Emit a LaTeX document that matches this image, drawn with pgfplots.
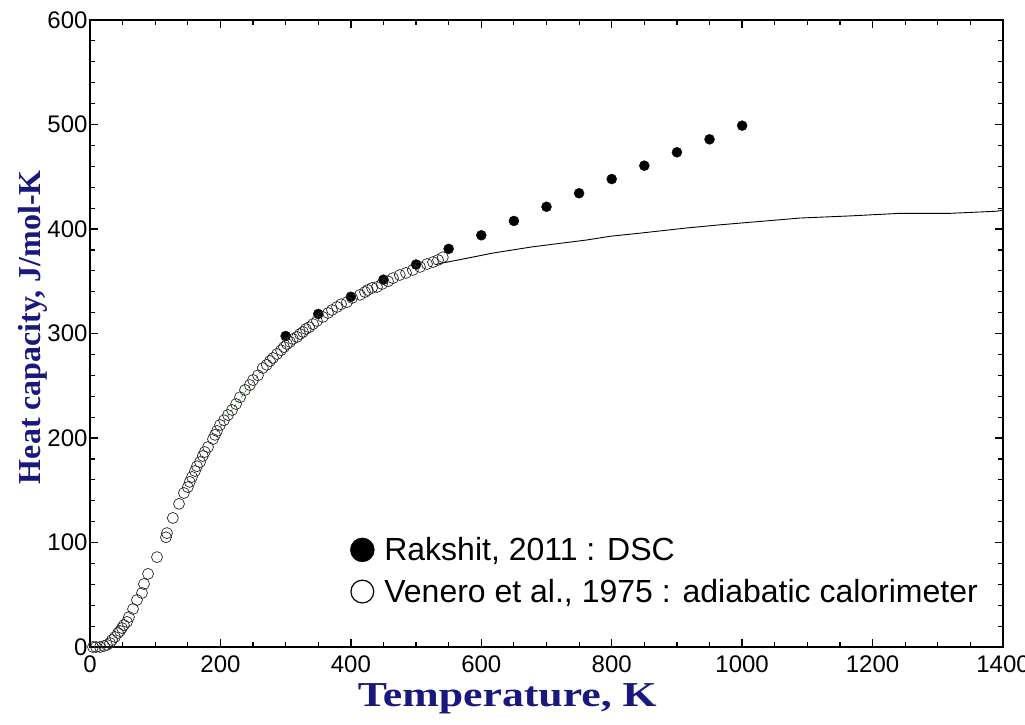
\documentclass[border=0pt]{standalone}
\usepackage{fontspec}
\setmainfont{Liberation Sans}
\newfontfamily\serifb{Liberation Serif}
\newfontfamily\serifwide[FakeStretch=1.25]{Liberation Serif}
\usepackage{pgfplots}
\pgfplotsset{compat=1.18}
\definecolor{navy}{RGB}{25,25,125}
\begin{document}
\begin{tikzpicture}
\path[use as bounding box] (-90pt,-77pt) rectangle (935pt,647pt);
\begin{axis}[
  at={(0,0)}, anchor=south west,
  scale only axis, width=913pt, height=627pt,
  xmin=0, xmax=1400, ymin=0, ymax=600,
  xtick={0,200,...,1400}, ytick={0,100,...,600},
  minor x tick num=3, minor y tick num=4,
  tick align=inside, xtick pos=both, ytick pos=both,
  xticklabel pos=bottom, yticklabel pos=left,
  major tick length=8pt, minor tick length=5pt,
  axis line style={line width=1.8pt},
  major tick style={line width=1.4pt, black},
  minor tick style={line width=1.2pt, black},
  tick label style={font=\fontsize{24}{28}\selectfont},
  /pgf/number format/assume math mode=true,
  /pgf/number format/1000 sep={},
  xticklabel style={yshift=-5pt},
  yticklabel style={xshift=1pt},
  xlabel={Temperature, K},
  ylabel={Heat capacity, J/mol-K},
  xlabel style={font=\serifwide\bfseries\fontsize{35}{40}\selectfont, text=navy,
    at={(axis description cs:0.457,0)}, anchor=north, yshift=-33pt},
  ylabel style={font=\serifb\bfseries\fontsize{32}{36}\selectfont, text=navy,
    at={(axis description cs:0,0.51)}, anchor=center, yshift=57pt},
  legend style={draw=none, fill=none, at={(axis cs:394,73)}, anchor=west,
    font=\fontsize{32}{36}\selectfont, row sep=13pt, cells={anchor=west}},
  clip=false,
]
% thin green dashed fragment under the circles
\addplot[forget plot, green!60!black, line width=0.6pt, dashed] coordinates {
(195,206) (210,220) (225,233) (240,246) (253,256) (265,266)
};
% calculated curve
\addplot[forget plot, black, line width=0.9pt] coordinates {
(530,366) (541,367.5) (578,372) (618,377) (679,383) (762,389.5) (797,393)
(843,396) (915,401) (966,404) (1017,406.7) (1089,410.5) (1165,412.5)
(1242,415) (1319,415) (1390,417) (1400,418)
};
% Rakshit 2011 DSC
\addplot[only marks, mark=*, mark size=5pt, mark options={fill=black, draw=black},
  legend image code/.code={\fill[black] (12pt,0pt) circle (12pt);
    \path[draw=none, fill=none] (0pt,-1pt) (32pt,1pt);}] coordinates {
(300,297.6) (350,318.7) (400,335.2) (450,351.5) (500,366) (550,381) (600,394)
(650,407.7) (700,421.3) (750,434.2) (800,447.8) (850,460.6) (900,473.4)
(950,485.8) (1000,498.9)
};
\addlegendentry{Rakshit, 2011 : DSC}
% Venero et al. 1975
\addplot[only marks, mark=o, mark size=5.5pt, mark options={draw=black!85, line width=0.7pt},
  legend image code/.code={\draw[black, line width=1.2pt] (12pt,0pt) circle (11.4pt);
    \path[draw=none, fill=none] (0pt,-1pt) (32pt,1pt);}] coordinates {
(4.6,0) (9.2,0) (15.3,0) (21.5,1) (26,2) (30.7,3.8) (33.7,6.7) (38.3,9.6)
(43,13.4) (46,15.3) (49,18.2) (52,21) (56.7,24) (59.8,28.7) (66,36.4) (72,45)
(79.7,51.7) (82.8,60.3) (89,70) (102.7,86) (116.5,105) (118,109) (127,123.5)
(136.5,137) (144,147.4) (150,153) (153,158) (156.4,162.7) (161,168.4) (164,173)
(168.7,177) (173,182.8) (176,186.6) (181,191.4) (188.6,199) (191.7,203)
(194.7,206.7) (199.4,212.5) (205.5,217) (211.6,222) (217.8,226.8) (224,232.5)
(230,239) (237.7,246) (245,250.7) (250,255.5) (257.6,260) (265,267) (271,270)
(276,273.7) (280.6,276.6) (286.8,280.4) (293,284) (297.5,287) (302,290)
(306.7,292) (311,294.8) (317.4,296.7) (322,299.5) (326.6,301.5) (331,304.3)
(336,306) (342,309) (348,312) (357,315.8) (365,319.6) (371,322.5) (378.8,325.4)
(385,328) (394,330) (402,334) (414,337) (421.7,339.7) (426,341.7) (432.5,343.6)
(440,344.5) (447.8,347.4) (457,350) (464.6,353) (475,356) (484.6,358) (495,360.8)
(506,363.7) (516.8,366.5) (526,368.4) (533.7,370.4) (541,373)
};
\addlegendentry{Venero et al., 1975 : adiabatic calorimeter}
\end{axis}
\end{tikzpicture}
\end{document}
